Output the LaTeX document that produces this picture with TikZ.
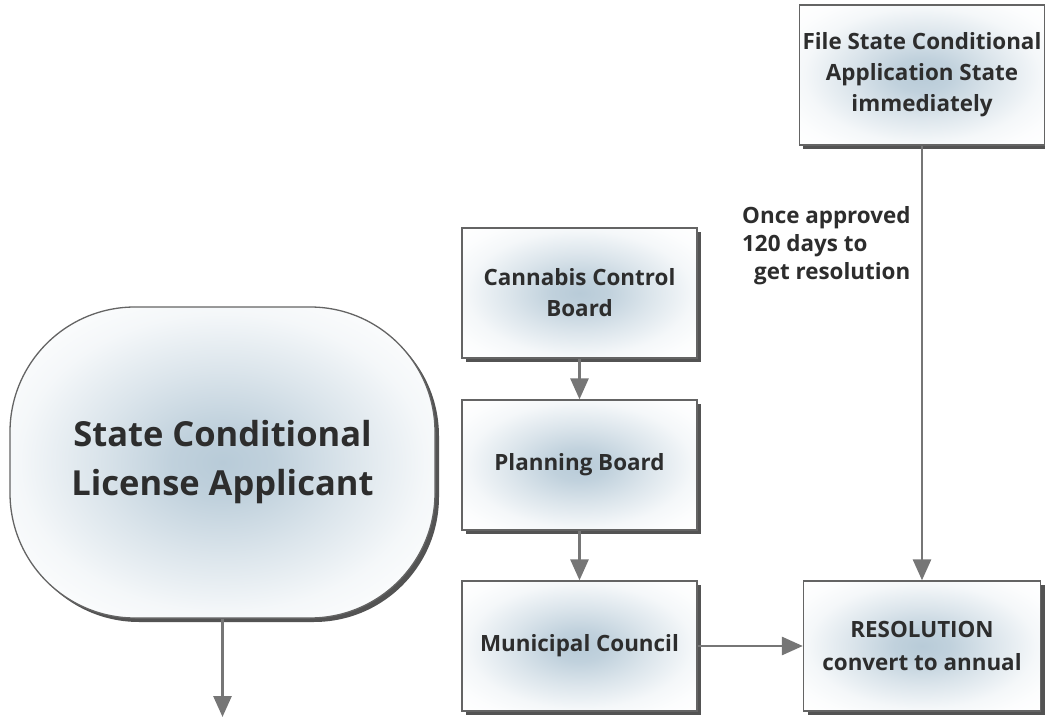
\documentclass[tikz,border=0pt]{standalone}
\usepackage{fontspec}
\setmainfont{Open Sans}
\usetikzlibrary{arrows.meta, positioning, shadows}
\definecolor{boxblue}{RGB}{184, 203, 216}
\definecolor{edgegray}{RGB}{100, 100, 100}
\definecolor{arrowgray}{RGB}{118, 118, 118}
\definecolor{textgray}{RGB}{45, 45, 45}
\pgfdeclareradialshading{boxglow}{\pgfpoint{0bp}{0bp}}{%
  color(0bp)=(boxblue); color(6bp)=(boxblue!88!white);
  color(15bp)=(boxblue!50!white); color(24bp)=(boxblue!15!white);
  color(30bp)=(boxblue!4!white); color(36bp)=(white); color(50bp)=(white)}

\tikzset{
  flowbox/.style={draw=edgegray, line width=1.3pt, shading=boxglow,
    drop shadow={shadow xshift=4pt, shadow yshift=-4pt, fill=black!75, opacity=0.9},
    minimum width=235pt, minimum height=130pt, align=center, text=textgray,
    font=\bfseries\fontsize{22.4}{31}\selectfont},
  startbox/.style={flowbox, rounded corners=125pt, minimum width=425pt, minimum height=311pt,
    font=\bfseries\fontsize{34.5}{49}\selectfont},
  flowarrow/.style={draw=arrowgray, line width=2.8pt, -{Triangle[length=21pt, width=18pt, fill=arrowgray]}},
  notetext/.style={align=left, text=textgray, inner sep=0pt, font=\bfseries\fontsize{22.4}{28}\selectfont},
}

\begin{document}
\begin{tikzpicture}[x=1pt, y=-1pt]
  \useasboundingbox (0,0) rectangle (1045,719);

  % left: applicant
  \node[startbox] (applicant) at (222.5,462.5) {State Conditional\\License Applicant};
  \coordinate (exit) at (222.5,717);

  % middle column
  \node[flowbox] (cannabis) at (579.5,293) {Cannabis Control\\Board};
  \node[flowbox] (planning) at (579.5,465) {Planning Board};
  \node[flowbox] (municipal) at (579.5,646) {Municipal Council};

  % right column
  \node[flowbox, minimum width=240pt, minimum height=140pt] (filestate) at (922,75)
    {File State Conditional\\Application State\\immediately};
  \node[flowbox, minimum width=237pt, font=\bfseries\fontsize{22.4}{33}\selectfont] (resolution) at (922,646)
    {RESOLUTION\\convert to annual};
  \node[notetext, anchor=north west] (note) at (742,206)
    {Once approved\\120 days to\\\hspace*{12pt}get resolution};

  \draw[flowarrow] (applicant.south) -- (exit);
  \draw[flowarrow] (cannabis) -- (planning);
  \draw[flowarrow] (planning) -- (municipal);
  \draw[flowarrow] (municipal) -- (resolution);
  \draw[flowarrow] (filestate) -- (resolution);
\end{tikzpicture}
\end{document}
